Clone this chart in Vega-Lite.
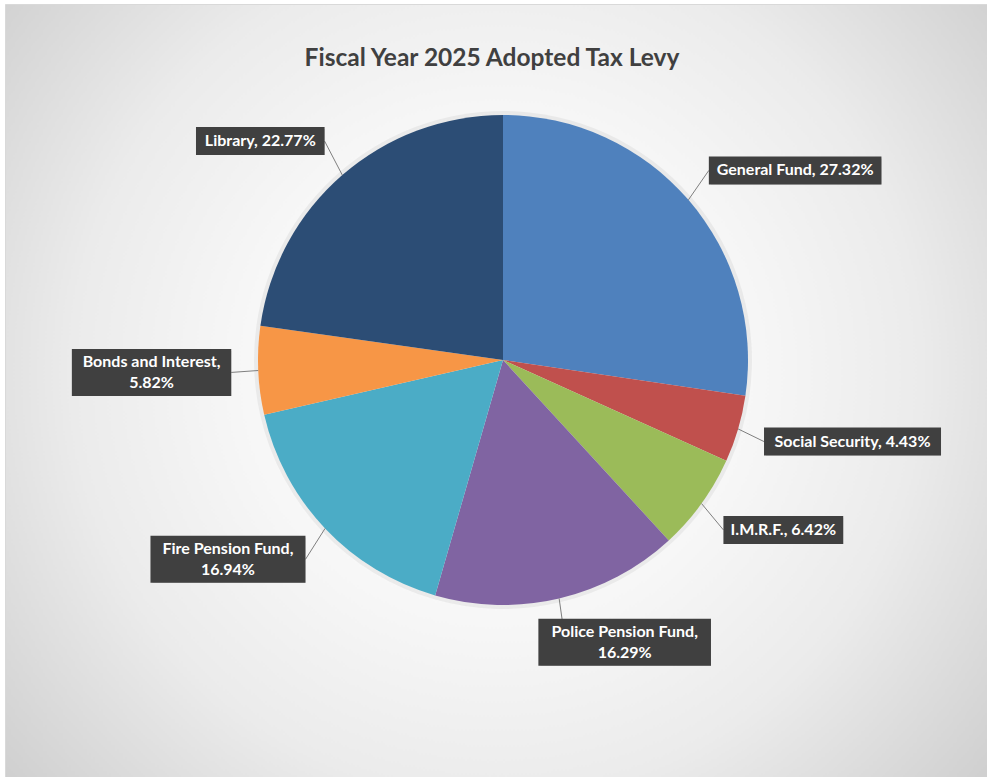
{
  "$schema": "https://vega.github.io/schema/vega-lite/v6.json",
  "width": 982,
  "height": 773,
  "autosize": "none",
  "padding": {"left": 5, "top": 4, "right": 0, "bottom": 0},
  "background": "white",
  "title": {
    "text": "Fiscal Year 2025 Adopted Tax Levy",
    "font": "Lato",
    "fontSize": 24.5,
    "fontWeight": "bold",
    "color": "#404040",
    "anchor": "middle",
    "frame": "group",
    "offset": -67,
    "dx": -4
  },
  "data": {
    "values": [
      {"category": "General Fund", "value": 27.32, "label": ["General Fund, 27.32%"]},
      {"category": "Social Security", "value": 4.43, "label": ["Social Security, 4.43%"]},
      {"category": "I.M.R.F.", "value": 6.42, "label": ["I.M.R.F., 6.42%"]},
      {"category": "Police Pension Fund", "value": 16.29, "label": ["Police Pension Fund,", "16.29%"]},
      {"category": "Fire Pension Fund", "value": 16.94, "label": ["Fire Pension Fund,", "16.94%"]},
      {"category": "Bonds and Interest", "value": 5.82, "label": ["Bonds and Interest,", "5.82%"]},
      {"category": "Library", "value": 22.77, "label": ["Library, 22.77%"]}
    ]
  },
  "transform": [
    {"window": [{"op": "row_number", "as": "idx"}]},
    {"window": [{"op": "sum", "field": "value", "as": "cum"}], "sort": [{"field": "idx"}], "frame": [null, 0]},
    {"joinaggregate": [{"op": "sum", "field": "value", "as": "total"}]},
    {"calculate": "2 * PI * (datum.cum - datum.value / 2) / datum.total", "as": "ang"},
    {"calculate": "sin(datum.ang)", "as": "s"},
    {"calculate": "cos(datum.ang)", "as": "c"},
    {"calculate": "245 * datum.s", "as": "px"},
    {"calculate": "-245 * datum.c", "as": "py"},
    {"calculate": "272 * datum.s", "as": "ax"},
    {"calculate": "-290 * datum.c", "as": "ay"},
    {"calculate": "0.5 * length(datum.label[0]) + 0.5 * length(replace(datum.label[0], regexp('[ilIjtfr.,: ]', 'g'), ''))", "as": "n0"},
    {"calculate": "datum.label.length > 1 ? 0.5 * length(datum.label[1]) + 0.5 * length(replace(datum.label[1], regexp('[ilIjtfr.,: ]', 'g'), '')) : 0", "as": "n1"},
    {"calculate": "8.8 * max(datum.n0, datum.n1) + 23", "as": "w"},
    {"calculate": "19 * datum.label.length + 9", "as": "h"},
    {"calculate": "datum.ax + (datum.s >= 0 ? 1 : -1) * min(1, 3 * abs(datum.s)) * datum.w / 2", "as": "cx"},
    {"calculate": "datum.ay", "as": "cy"},
    {"calculate": "datum.cy - (datum.label.length - 1) * 10.5", "as": "ty"},
    {"calculate": "datum.cx - datum.w / 2", "as": "bx1"},
    {"calculate": "datum.cx + datum.w / 2", "as": "bx2"},
    {"calculate": "datum.cy - datum.h / 2", "as": "by1"},
    {"calculate": "datum.cy + datum.h / 2", "as": "by2"}
  ],
  "layer": [
    {
      "mark": {"type": "arc", "radius": 249, "fill": "#000000", "fillOpacity": 0.05},
      "encoding": {
        "theta": {"field": "value", "type": "quantitative", "stack": true},
        "order": {"field": "idx", "type": "quantitative"},
        "x": {"datum": 0, "type": "quantitative", "scale": {"domain": [-498, 484], "nice": false, "zero": false}, "axis": null},
        "y": {"datum": 0, "type": "quantitative", "scale": {"domain": [-356, 417], "nice": false, "zero": false, "reverse": true}, "axis": null}
      }
    },
    {
      "mark": {"type": "arc", "radius": 245},
      "encoding": {
        "theta": {"field": "value", "type": "quantitative", "stack": true},
        "order": {"field": "idx", "type": "quantitative"},
        "color": {
          "field": "category",
          "type": "nominal",
          "legend": null,
          "scale": {
            "domain": ["General Fund", "Social Security", "I.M.R.F.", "Police Pension Fund", "Fire Pension Fund", "Bonds and Interest", "Library"],
            "range": ["#4F81BD", "#C0504D", "#9BBB59", "#8064A2", "#4BACC6", "#F79646", "#2C4D75"]
          }
        },
        "x": {"datum": 0, "type": "quantitative", "scale": {"domain": [-498, 484], "nice": false, "zero": false}, "axis": null},
        "y": {"datum": 0, "type": "quantitative", "scale": {"domain": [-356, 417], "nice": false, "zero": false, "reverse": true}, "axis": null}
      }
    },
    {
      "mark": {"type": "rule", "color": "#7f7f7f", "strokeWidth": 1},
      "encoding": {
        "x": {"field": "px", "type": "quantitative", "scale": {"domain": [-498, 484], "nice": false, "zero": false}, "axis": null},
        "y": {"field": "py", "type": "quantitative", "scale": {"domain": [-356, 417], "nice": false, "zero": false, "reverse": true}, "axis": null},
        "x2": {"field": "ax"},
        "y2": {"field": "ay"}
      }
    },
    {
      "mark": {"type": "rect", "fill": "#000000", "fillOpacity": 0.2, "xOffset": 2, "yOffset": 2},
      "encoding": {
        "x": {"field": "bx1", "type": "quantitative", "scale": {"domain": [-498, 484], "nice": false, "zero": false}, "axis": null},
        "x2": {"field": "bx2"},
        "y": {"field": "by1", "type": "quantitative", "scale": {"domain": [-356, 417], "nice": false, "zero": false, "reverse": true}, "axis": null},
        "y2": {"field": "by2"}
      }
    },
    {
      "mark": {"type": "rect", "fill": "#404040"},
      "encoding": {
        "x": {"field": "bx1", "type": "quantitative", "scale": {"domain": [-498, 484], "nice": false, "zero": false}, "axis": null},
        "x2": {"field": "bx2"},
        "y": {"field": "by1", "type": "quantitative", "scale": {"domain": [-356, 417], "nice": false, "zero": false, "reverse": true}, "axis": null},
        "y2": {"field": "by2"}
      }
    },
    {
      "mark": {"type": "text", "font": "Lato", "fontSize": 16, "fontWeight": "bold", "color": "#ffffff", "align": "center", "baseline": "middle", "lineHeight": 21},
      "encoding": {
        "x": {"field": "cx", "type": "quantitative", "scale": {"domain": [-498, 484], "nice": false, "zero": false}, "axis": null},
        "y": {"field": "ty", "type": "quantitative", "scale": {"domain": [-356, 417], "nice": false, "zero": false, "reverse": true}, "axis": null},
        "text": {"field": "label"}
      }
    }
  ],
  "config": {
    "view": {
      "stroke": "#d9d9d9",
      "strokeWidth": 1,
      "fill": {
        "gradient": "radial",
        "x1": 0.5, "y1": 0.48, "r1": 0,
        "x2": 0.5, "y2": 0.48, "r2": 0.72,
        "stops": [
          {"offset": 0, "color": "#ffffff"},
          {"offset": 0.35, "color": "#f7f7f7"},
          {"offset": 0.6, "color": "#ebebeb"},
          {"offset": 1, "color": "#c6c6c6"}
        ]
      }
    }
  }
}
